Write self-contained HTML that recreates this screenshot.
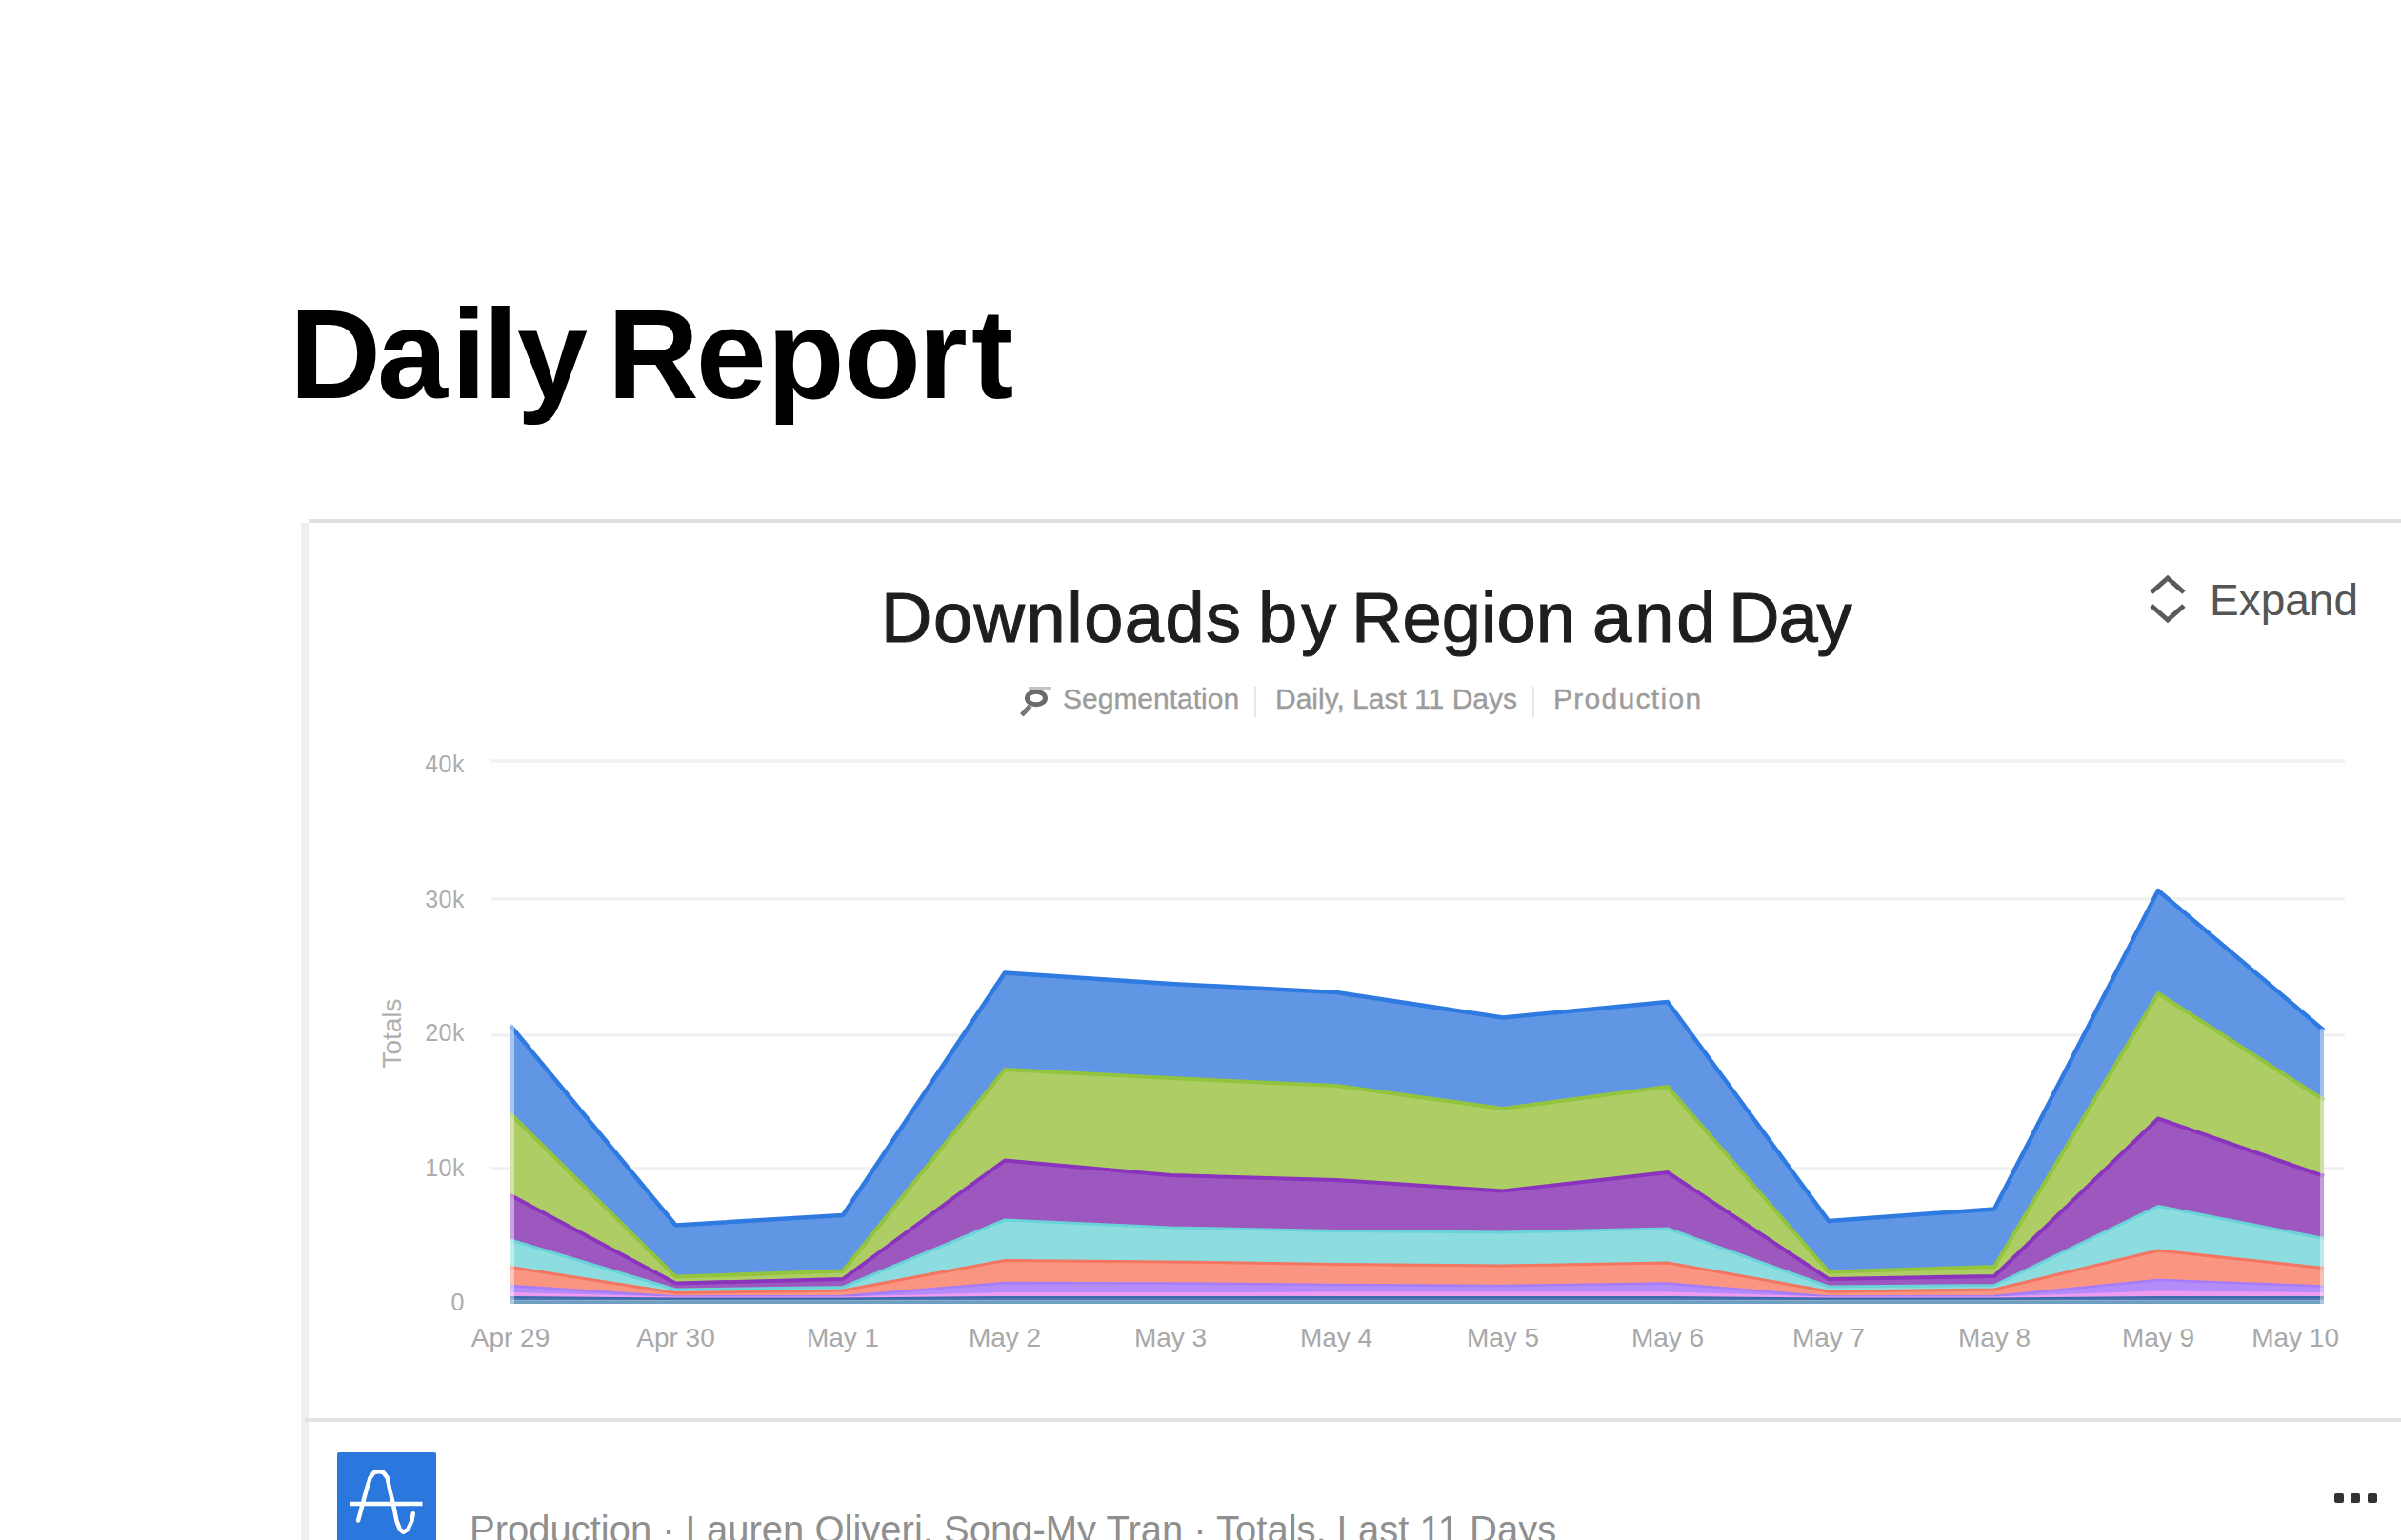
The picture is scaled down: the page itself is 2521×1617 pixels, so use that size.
<!DOCTYPE html>
<html lang="en"><head><meta charset="utf-8"><title>Daily Report</title>
<style>
html,body{margin:0;padding:0;background:#fff;width:2521px;height:1617px;overflow:hidden;position:relative}
body{font-family:"Liberation Sans",Arial,sans-serif}
.abs{position:absolute;white-space:nowrap}
.chart{position:absolute;left:0;top:0}
h1 span{position:relative}
h1{position:absolute;white-space:nowrap;margin:0;left:304px;top:292px;font-size:133px;line-height:160px;font-weight:700;color:#000;letter-spacing:-2.6px}
.card-top{position:absolute;left:324px;top:545px;width:2197px;height:4px;background:#e0e0e0}
.card-left{position:absolute;left:316px;top:549px;width:8px;height:1068px;background:#eef0ef}
.divider{position:absolute;left:320px;top:1489px;width:2201px;height:4px;background:#e3e3e3}
.w{position:absolute;top:0;white-space:nowrap}
.ctitle{width:1100px;height:88px;left:925px;top:605px;font-size:74px;line-height:88px;color:#1e1e1e;letter-spacing:0.1px;-webkit-text-stroke:1.1px #1e1e1e}
.sub{top:716px;font-size:30px;line-height:36px;color:#9c9c9c;-webkit-text-stroke:0.4px #9c9c9c}
.sep{position:absolute;top:721px;width:2px;height:32px;background:#e6e6e6}
.expand{left:2320px;top:604px;font-size:46px;line-height:52px;color:#555}
.logo{position:absolute;left:354px;top:1525px;width:104px;height:104px;background:#2a78de;border-radius:2px}
.foot{left:493px;top:1582px;font-size:40px;line-height:48px;color:#8f8f8f}
.dot{position:absolute;top:1568px;width:10px;height:10px;background:#333;border-radius:2px}
</style></head><body>
<h1><span>D</span><span style="left:-1.5px">a</span><span style="left:5px">i</span><span style="left:4px">l</span><span style="left:5.5px">y</span> <span style="left:-5.5px">R</span><span style="left:-6px">e</span><span style="left:-2.5px">p</span><span style="left:-1px">o</span><span style="left:-1.5px">r</span><span style="left:5.5px">t</span></h1>
<div class="card-top"></div>
<div class="card-left"></div>
<div class="abs ctitle"><span class="w" style="left:0;letter-spacing:1.5px">Downloads</span> <span class="w" style="left:396px;letter-spacing:4px">by</span> <span class="w" style="left:494px">Region</span> <span class="w" style="left:747px;letter-spacing:3px">and</span> <span class="w" style="left:890px;letter-spacing:-1px">Day</span></div>
<svg class="abs" style="left:1070px;top:719px" width="38" height="36" viewBox="0 0 38 36"><ellipse cx="18" cy="14" rx="9.5" ry="6.8" fill="none" stroke="#6a6a6a" stroke-width="5"/><line x1="10" y1="24" x2="4.5" y2="30" stroke="#777" stroke-width="5" stroke-linecap="square"/><line x1="10" y1="3.5" x2="34" y2="3.5" stroke="#c4c4c4" stroke-width="3"/></svg>
<div class="abs sub" style="left:1116px">Segmentation</div>
<div class="sep" style="left:1317px"></div>
<div class="abs sub" style="left:1339px">Daily, Last 11 Days</div>
<div class="sep" style="left:1609px"></div>
<div class="abs sub" style="left:1631px;letter-spacing:1.3px">Production</div>
<svg class="abs" style="left:2252px;top:600px" width="48" height="58" viewBox="0 0 48 58"><polyline points="7,22 24,7 41,22" fill="none" stroke="#5a5a5a" stroke-width="5"/><polyline points="7,36 24,51 41,36" fill="none" stroke="#5a5a5a" stroke-width="5"/></svg>
<div class="abs expand">Expand</div>
<svg class="chart" width="2521" height="1617" viewBox="0 0 2521 1617">
<line x1="516" x2="2462" y1="799" y2="799" stroke="#f0f1f2" stroke-width="3.5"/><line x1="516" x2="2462" y1="944" y2="944" stroke="#f0f1f2" stroke-width="3.5"/><line x1="516" x2="2462" y1="1087" y2="1087" stroke="#f0f1f2" stroke-width="3.5"/><line x1="516" x2="2462" y1="1227" y2="1227" stroke="#f0f1f2" stroke-width="3.5"/>
<polygon points="536,1077 709.5,1286.5 885,1276 1055,1021.5 1229,1033 1403,1042 1578,1068.5 1751,1052 1920,1282 2094,1269.5 2266,935 2440,1082 2440,1155 2266,1043 2094,1330 1920,1335.5 1751,1141 1578,1164 1403,1140 1229,1132 1055,1123 885,1334.5 709.5,1340.6 536,1169.5" fill="#6096e4"/><polygon points="536,1169.5 709.5,1340.6 885,1334.5 1055,1123 1229,1132 1403,1140 1578,1164 1751,1141 1920,1335.5 2094,1330 2266,1043 2440,1155 2440,1235 2266,1174.5 2094,1340 1920,1343 1751,1231 1578,1250.5 1403,1239 1229,1234 1055,1218.5 885,1343 709.5,1347.5 536,1255" fill="#aecd64"/><polygon points="536,1255 709.5,1347.5 885,1343 1055,1218.5 1229,1234 1403,1239 1578,1250.5 1751,1231 1920,1343 2094,1340 2266,1174.5 2440,1235 2440,1300.5 2266,1266.5 2094,1349.5 1920,1351 1751,1290 1578,1294 1403,1292.5 1229,1289 1055,1281 885,1351.5 709.5,1354 536,1302" fill="#9d58c0"/><polygon points="536,1302 709.5,1354 885,1351.5 1055,1281 1229,1289 1403,1292.5 1578,1294 1751,1290 1920,1351 2094,1349.5 2266,1266.5 2440,1300.5 2440,1331.5 2266,1313 2094,1354 1920,1356 1751,1326 1578,1329 1403,1327.5 1229,1325 1055,1323.5 885,1355 709.5,1357.5 536,1330.5" fill="#8ddde0"/><polygon points="536,1330.5 709.5,1357.5 885,1355 1055,1323.5 1229,1325 1403,1327.5 1578,1329 1751,1326 1920,1356 2094,1354 2266,1313 2440,1331.5 2440,1350.5 2266,1344 2094,1361 1920,1361.5 1751,1347.5 1578,1350 1403,1349 1229,1347.5 1055,1347 885,1361 709.5,1361.5 536,1350" fill="#fa9582"/><polygon points="536,1350 709.5,1361.5 885,1361 1055,1347 1229,1347.5 1403,1349 1578,1350 1751,1347.5 1920,1361.5 2094,1361 2266,1344 2440,1350.5 2440,1358 2266,1356.5 2094,1362.5 1920,1362.5 1751,1357.5 1578,1357.5 1403,1357.5 1229,1358 1055,1358 885,1362.5 709.5,1362.5 536,1358" fill="#b48cf9"/><polygon points="536,1358 709.5,1362.5 885,1362.5 1055,1358 1229,1358 1403,1357.5 1578,1357.5 1751,1357.5 1920,1362.5 2094,1362.5 2266,1356.5 2440,1358 2440,1362 2266,1362 2094,1363.5 1920,1363.5 1751,1362 1578,1362 1403,1362 1229,1362 1055,1362 885,1363.5 709.5,1363.5 536,1362" fill="#ec9cec"/><polygon points="536,1362 709.5,1363.5 885,1363.5 1055,1362 1229,1362 1403,1362 1578,1362 1751,1362 1920,1363.5 2094,1363.5 2266,1362 2440,1362 2440,1365.5 2266,1365.5 2094,1365.5 1920,1365.5 1751,1365.5 1578,1365.5 1403,1365.5 1229,1365.5 1055,1365.5 885,1365.5 709.5,1365.5 536,1365.5" fill="#5078b4"/><polygon points="536,1365.5 709.5,1365.5 885,1365.5 1055,1365.5 1229,1365.5 1403,1365.5 1578,1365.5 1751,1365.5 1920,1365.5 2094,1365.5 2266,1365.5 2440,1365.5 2440,1369 2266,1369 2094,1369 1920,1369 1751,1369 1578,1369 1403,1369 1229,1369 1055,1369 885,1369 709.5,1369 536,1369" fill="#6e9ec0"/>
<polyline points="536,1077 709.5,1286.5 885,1276 1055,1021.5 1229,1033 1403,1042 1578,1068.5 1751,1052 1920,1282 2094,1269.5 2266,935 2440,1082" fill="none" stroke="#2f7ae0" stroke-width="4.5" stroke-linejoin="round"/><polyline points="536,1169.5 709.5,1340.6 885,1334.5 1055,1123 1229,1132 1403,1140 1578,1164 1751,1141 1920,1335.5 2094,1330 2266,1043 2440,1155" fill="none" stroke="#93c43e" stroke-width="4" stroke-linejoin="round"/><polyline points="536,1255 709.5,1347.5 885,1343 1055,1218.5 1229,1234 1403,1239 1578,1250.5 1751,1231 1920,1343 2094,1340 2266,1174.5 2440,1235" fill="none" stroke="#8a33bd" stroke-width="4" stroke-linejoin="round"/><polyline points="536,1302 709.5,1354 885,1351.5 1055,1281 1229,1289 1403,1292.5 1578,1294 1751,1290 1920,1351 2094,1349.5 2266,1266.5 2440,1300.5" fill="none" stroke="#6ad3d8" stroke-width="3" stroke-linejoin="round"/><polyline points="536,1330.5 709.5,1357.5 885,1355 1055,1323.5 1229,1325 1403,1327.5 1578,1329 1751,1326 1920,1356 2094,1354 2266,1313 2440,1331.5" fill="none" stroke="#f47560" stroke-width="3" stroke-linejoin="round"/><polyline points="536,1350 709.5,1361.5 885,1361 1055,1347 1229,1347.5 1403,1349 1578,1350 1751,1347.5 1920,1361.5 2094,1361 2266,1344 2440,1350.5" fill="none" stroke="#a57cfc" stroke-width="2.5" stroke-linejoin="round"/><polyline points="536,1358 709.5,1362.5 885,1362.5 1055,1358 1229,1358 1403,1357.5 1578,1357.5 1751,1357.5 1920,1362.5 2094,1362.5 2266,1356.5 2440,1358" fill="none" stroke="#f09af2" stroke-width="2" stroke-linejoin="round"/><polyline points="536,1362 709.5,1363.5 885,1363.5 1055,1362 1229,1362 1403,1362 1578,1362 1751,1362 1920,1363.5 2094,1363.5 2266,1362 2440,1362" fill="none" stroke="#3b6aaa" stroke-width="2" stroke-linejoin="round"/>
<rect x="536" y="1074" width="4" height="295" fill="#fff" opacity="0.45"/>
<rect x="2436" y="1080" width="4" height="289" fill="#fff" opacity="0.4"/>
<g fill="#adadad" font-family="Liberation Sans, sans-serif" font-size="25" letter-spacing="0.5"><text x="488" y="811" text-anchor="end">40k</text><text x="488" y="953" text-anchor="end">30k</text><text x="488" y="1093" text-anchor="end">20k</text><text x="488" y="1235" text-anchor="end">10k</text><text x="488" y="1376" text-anchor="end">0</text></g>
<g fill="#a8a8a8" font-family="Liberation Sans, sans-serif" font-size="28"><text x="536" y="1414" text-anchor="middle">Apr 29</text><text x="709.5" y="1414" text-anchor="middle">Apr 30</text><text x="885" y="1414" text-anchor="middle">May 1</text><text x="1055" y="1414" text-anchor="middle">May 2</text><text x="1229" y="1414" text-anchor="middle">May 3</text><text x="1403" y="1414" text-anchor="middle">May 4</text><text x="1578" y="1414" text-anchor="middle">May 5</text><text x="1751" y="1414" text-anchor="middle">May 6</text><text x="1920" y="1414" text-anchor="middle">May 7</text><text x="2094" y="1414" text-anchor="middle">May 8</text><text x="2266" y="1414" text-anchor="middle">May 9</text><text x="2456" y="1414" text-anchor="end">May 10</text></g>
<text transform="translate(421 1085) rotate(-90)" text-anchor="middle" fill="#b0b0b0" font-family="Liberation Sans, sans-serif" font-size="28">Totals</text>
</svg>
<div class="divider"></div>
<div class="logo"><svg width="104" height="104" viewBox="0 0 104 104"><polyline points="22.1,71.5 30.5,39.9 34.6,26.7 38.8,21.1 43.7,20.1 48.5,21.1 52.7,26.7 55.5,40.6 59,54.5 62.4,71.9 65.9,80.9 69.4,83.7 74.3,80.9 78.4,71.9 79.8,64.2" fill="none" stroke="#fff" stroke-width="4.5" stroke-linejoin="round" stroke-linecap="round"/><line x1="14" y1="54" x2="89.5" y2="54" stroke="#fff" stroke-width="4.5"/></svg></div>
<div class="abs foot">Production · Lauren Oliveri, Song-My Tran · Totals, Last 11 Days</div>
<div class="dot" style="left:2451px"></div>
<div class="dot" style="left:2468px"></div>
<div class="dot" style="left:2485.5px"></div>
</body></html>
